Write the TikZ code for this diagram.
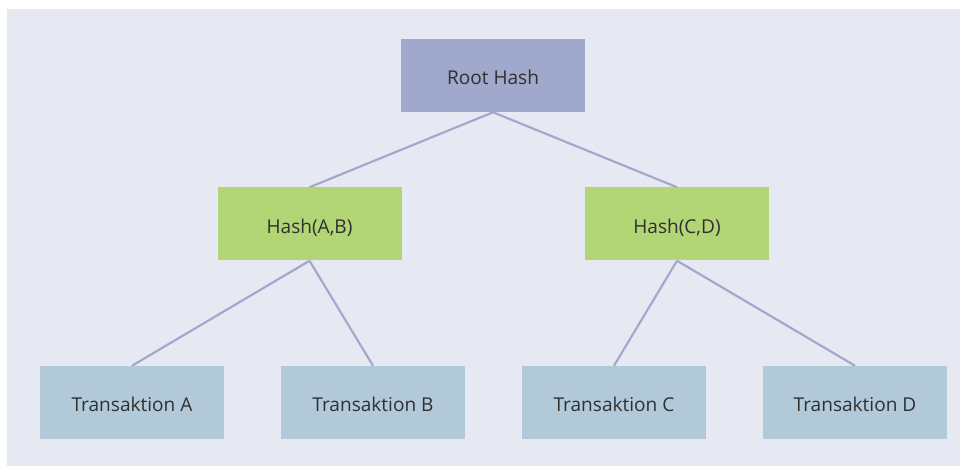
\documentclass[tikz,border=0pt]{standalone}
\usepackage{fontspec}
\setmainfont{Open Sans}
\definecolor{panel}{HTML}{E6E8F2}
\definecolor{rootfill}{HTML}{A0A8CC}
\definecolor{hashfill}{HTML}{B2D575}
\definecolor{leaffill}{HTML}{B2C9DA}
\definecolor{edgecol}{HTML}{A0A8CC}
\definecolor{txt}{HTML}{303030}
\begin{document}
\begin{tikzpicture}[x=0.75pt,y=-0.75pt,
  treebox/.style={minimum width=184*0.75pt,minimum height=73*0.75pt,inner sep=0pt,
    text=txt,font=\fontsize{14.3}{17}\selectfont,
    text depth=0pt,text height=14.2pt},
  rootbox/.style={treebox,fill=rootfill},
  hashbox/.style={treebox,fill=hashfill},
  leafbox/.style={treebox,fill=leaffill},
  link/.style={draw=edgecol,line width=1.6pt}]
  % canvas and panel
  \fill[white] (0,0) rectangle (960,466);
  \fill[panel] (7,9) rectangle (960,466);
  \useasboundingbox (0,0) rectangle (960,466);
  % nodes
  \node[rootbox] (root) at (493,75.5) {Root Hash};
  \node[hashbox] (hab) at (309.5,224) {Hash(A,B)};
  \node[hashbox] (hcd) at (677,224) {Hash(C,D)};
  \node[leafbox] (ta) at (132,402.5) {Transaktion A};
  \node[leafbox] (tb) at (373,402.5) {Transaktion B};
  \node[leafbox] (tc) at (614,402.5) {Transaktion C};
  \node[leafbox] (td) at (855,402.5) {Transaktion D};
  % connectors
  \draw[link] (root.south) -- (hab.north);
  \draw[link] (root.south) -- (hcd.north);
  \draw[link] (hab.south) -- (ta.north);
  \draw[link] (hab.south) -- (tb.north);
  \draw[link] (hcd.south) -- (tc.north);
  \draw[link] (hcd.south) -- (td.north);
\end{tikzpicture}
\end{document}
